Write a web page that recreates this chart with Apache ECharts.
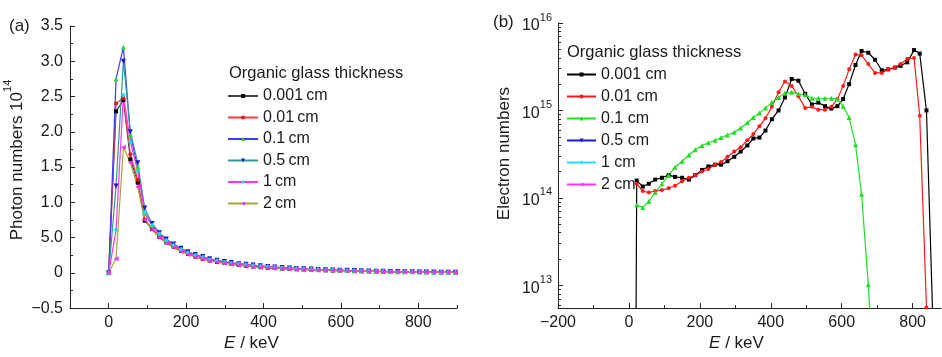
<!DOCTYPE html>
<html>
<head>
<meta charset="utf-8">
<script src="https://cdn.jsdelivr.net/npm/echarts@6/dist/echarts.min.js"></script>
<style>
  html, body { margin: 0; padding: 0; background: #fff; }
  #chart { width: 942px; height: 357px; }
</style>
</head>
<body>
<div id="chart"></div>
<script>
// ---------- Panel (a): photon spectra (values in units of 10^14) ----------
const energyA = [0, 19, 38, 56, 75, 93, 112, 131, 149, 168, 187, 205, 224, 243, 261, 280, 299, 317, 336, 355,
  373, 392, 411, 429, 448, 467, 485, 504, 523, 541, 560, 579, 597, 616, 635, 653, 672, 691, 709, 728,
  747, 765, 784, 803, 821, 840, 859, 877, 896];

const photon0001 = [0, 2.29, 2.45, 1.61, 1.28, 0.74, 0.62, 0.51, 0.43, 0.37, 0.31, 0.27, 0.23, 0.20, 0.175, 0.155,
  0.14, 0.125, 0.11, 0.10, 0.09, 0.08, 0.073, 0.067, 0.061, 0.056, 0.051, 0.047, 0.043, 0.039, 0.036, 0.033,
  0.030, 0.027, 0.025, 0.023, 0.021, 0.019, 0.017, 0.015, 0.014, 0.013, 0.012, 0.011, 0.010, 0.009, 0.008, 0.007, 0.006];
const photon001 = [0, 2.40, 2.48, 1.68, 1.32, 0.76, 0.63, 0.52, 0.44, 0.375, 0.32, 0.275, 0.235, 0.205, 0.18, 0.16,
  0.142, 0.127, 0.113, 0.102, 0.092, 0.082, 0.075, 0.069, 0.063, 0.057, 0.052, 0.048, 0.044, 0.040, 0.037, 0.034,
  0.031, 0.028, 0.026, 0.024, 0.022, 0.020, 0.018, 0.016, 0.015, 0.014, 0.012, 0.011, 0.010, 0.009, 0.008, 0.007, 0.006];
const photon01 = [0, 2.75, 3.20, 1.95, 1.50, 0.85, 0.68, 0.56, 0.47, 0.40, 0.34, 0.29, 0.255, 0.225, 0.195, 0.175,
  0.155, 0.14, 0.128, 0.117, 0.107, 0.097, 0.088, 0.080, 0.073, 0.067, 0.061, 0.056, 0.051, 0.047, 0.043, 0.040,
  0.037, 0.034, 0.031, 0.028, 0.026, 0.023, 0.021, 0.019, 0.017, 0.016, 0.014, 0.013, 0.012, 0.010, 0.009, 0.008, 0.007];
const photon05 = [0, 1.23, 3.00, 2.00, 1.56, 0.92, 0.70, 0.57, 0.48, 0.41, 0.35, 0.30, 0.26, 0.23, 0.20, 0.18,
  0.16, 0.145, 0.13, 0.12, 0.11, 0.10, 0.09, 0.082, 0.075, 0.069, 0.063, 0.058, 0.053, 0.049, 0.045, 0.041,
  0.038, 0.035, 0.032, 0.029, 0.027, 0.024, 0.022, 0.020, 0.018, 0.016, 0.015, 0.013, 0.012, 0.011, 0.009, 0.008, 0.007];
const photon1 = [0, 0.61, 2.52, 1.86, 1.44, 0.86, 0.67, 0.55, 0.46, 0.39, 0.33, 0.285, 0.25, 0.22, 0.19, 0.17,
  0.15, 0.135, 0.125, 0.115, 0.105, 0.095, 0.086, 0.078, 0.071, 0.065, 0.060, 0.055, 0.050, 0.046, 0.042, 0.039,
  0.036, 0.033, 0.030, 0.028, 0.025, 0.023, 0.021, 0.019, 0.017, 0.015, 0.014, 0.013, 0.011, 0.010, 0.009, 0.008, 0.007];
const photon2 = [0, 0.20, 1.78, 1.56, 1.22, 0.75, 0.61, 0.50, 0.42, 0.36, 0.30, 0.26, 0.225, 0.195, 0.17, 0.15,
  0.135, 0.12, 0.106, 0.096, 0.086, 0.077, 0.070, 0.064, 0.058, 0.053, 0.049, 0.045, 0.041, 0.038, 0.035, 0.032,
  0.029, 0.026, 0.024, 0.022, 0.020, 0.018, 0.016, 0.015, 0.014, 0.013, 0.012, 0.011, 0.010, 0.009, 0.008, 0.007, 0.006];

const namesA = ['0.001\u2009cm', '0.01\u2009cm', '0.1\u2009cm', '0.5\u2009cm', '1\u2009cm', '2\u2009cm'];
const yTicksA = [-0.5, 0, 0.5, 1.0, 1.5, 2.0, 2.5, 3.0, 3.5];
const yTickTextA = ['\u22120.5', '0', '5.0', '1.0', '1.5', '2.0', '2.5', '3.0', '3.5'];
const yMinorA = [-0.25, 0.25, 0.75, 1.25, 1.75, 2.25, 2.75, 3.25];
const xTicksA = [0, 200, 400, 600, 800];
const xMinorA = [100, 300, 500, 700, 900];

// ---------- Panel (b): electron spectra (values in units of 10^14) ----------
const energyB = [20, 22, 39, 56, 74, 93, 112, 130, 150, 169, 187, 206, 224, 243, 260, 278, 297, 315, 334, 351,
  368, 385, 403, 422, 440, 459, 478, 497, 516, 534, 553, 571, 588, 604, 621, 639, 656, 675, 694, 713,
  731, 750, 766, 785, 804, 820, 839, 857];

const electron0001 = [0.04, 1.58, 1.35, 1.45, 1.62, 1.70, 1.82, 1.74, 1.70, 1.62, 1.82, 2.09, 2.29, 2.40, 2.40, 2.63,
  2.95, 3.39, 3.98, 4.79, 4.90, 5.89, 7.94, 10.0, 14.1, 22.9, 21.9, 15.5, 11.7, 12.3, 11.2, 10.5,
  11.2, 13.5, 20.0, 33.1, 47.9, 45.7, 38.0, 28.8, 29.5, 30.9, 32.4, 35.5, 49.0, 44.7, 10.0, 0.04];
const electron001 = [null, 1.45, 1.20, 1.15, 1.20, 1.23, 1.29, 1.38, 1.55, 1.70, 1.82, 2.00, 2.14, 2.40, 2.57, 2.95,
  3.39, 3.80, 4.57, 5.37, 6.61, 8.13, 11.0, 16.2, 21.4, 19.1, 14.5, 10.7, 11.0, 10.2, 10.2, 11.0,
  13.5, 19.1, 29.5, 43.7, 42.7, 33.9, 26.9, 26.9, 29.5, 30.9, 33.9, 38.9, 39.8, 8.71, 0.056];
const electron01 = [null, 0.832, 0.776, 0.912, 1.15, 1.45, 1.82, 2.24, 2.63, 3.09, 3.55, 3.98, 4.27, 4.57, 4.90, 5.25,
  5.62, 6.31, 7.24, 8.32, 9.33, 10.7, 12.3, 14.1, 15.8, 16.2, 15.5, 15.1, 13.8, 13.8, 13.8, 13.8,
  13.5, 11.2, 8.32, 4.07, 1.10, 0.102, 0.005];
const electron05 = [];
const electron1 = [];
const electron2 = [];
const UNIT_B = 1e14;

const namesB = ['0.001 cm', '0.01 cm', '0.1 cm', '0.5 cm', '1 cm', '2 cm'];
const xTicksB = [-200, 0, 200, 400, 600, 800];
const xMinorB = [-100, 100, 300, 500, 700];
const yMinB = 5.5e12, yMaxB = 1e16;

// ---------- helpers ----------
const FONT = '"Liberation Sans", Arial, Helvetica, sans-serif';
const INK = '#1a1a1a';

// panel a: xAxis 0 / yAxis 0; panel b: xAxis 2 / yAxis 1
function lineSeries(name, xs, ys, unit, xi, yi, lineColor, markColor, symbol, rotate, size) {
  return {
    type: 'line', name: name,
    xAxisIndex: xi, yAxisIndex: yi,
    data: ys.map((v, i) => [xs[i], v == null ? null : v * unit]),
    symbol: symbol, symbolRotate: rotate, symbolSize: size,
    showSymbol: true, showAllSymbol: true,
    lineStyle: { color: lineColor, width: 1.2 },
    itemStyle: { color: markColor },
    emphasis: { disabled: true },
    animation: false
  };
}

const seriesList = [
  lineSeries(namesA[0], energyA, photon0001, 1, 0, 0, '#444444', '#000000', 'rect', 0, 4),
  lineSeries(namesA[1], energyA, photon001, 1, 0, 0, '#ff3a3a', '#e81010', 'circle', 0, 4),
  lineSeries(namesA[2], energyA, photon01, 1, 0, 0, '#3c3cf0', '#2fd62f', 'triangle', 0, 5),
  lineSeries(namesA[3], energyA, photon05, 1, 0, 0, '#2e9a9a', '#1a1ac8', 'triangle', 180, 5),
  lineSeries(namesA[4], energyA, photon1, 1, 0, 0, '#ff33ff', '#22d8e0', 'diamond', 0, 5),
  lineSeries(namesA[5], energyA, photon2, 1, 0, 0, '#a6a63a', '#ee33ee', 'triangle', 90, 5),

  lineSeries(namesB[0], energyB, electron0001, UNIT_B, 2, 1, '#000000', '#000000', 'rect', 0, 4),
  lineSeries(namesB[1], energyB, electron001, UNIT_B, 2, 1, '#ff1a1a', '#ff1a1a', 'circle', 0, 4),
  lineSeries(namesB[2], energyB, electron01, UNIT_B, 2, 1, '#22dd22', '#22dd22', 'triangle', 0, 5),
  lineSeries(namesB[3], energyB, electron05, UNIT_B, 2, 1, '#1a1acc', '#1a1acc', 'triangle', 180, 5),
  lineSeries(namesB[4], energyB, electron1, UNIT_B, 2, 1, '#22ddff', '#22ddff', 'diamond', 0, 5),
  lineSeries(namesB[5], energyB, electron2, UNIT_B, 2, 1, '#ff33ff', '#ff33ff', 'triangle', 90, 5)
];

const axisLineStyle = { color: '#222', width: 1 };
const tickLabel = { color: INK, fontFamily: FONT, fontSize: 16 };
const richE = { i: { fontStyle: 'italic', fontSize: 17, fontFamily: FONT, color: INK } };

// a value axis that only draws short inward ticks (minor subdivisions)
function minorAxis(gridIndex, position, min, max, values) {
  return {
    gridIndex, type: 'value', position, min, max,
    axisLine: { show: false, onZero: false },
    axisTick: { show: true, inside: true, length: 3, customValues: values, lineStyle: axisLineStyle },
    axisLabel: { show: false }, splitLine: { show: false }
  };
}

const option = {
  backgroundColor: '#ffffff',
  animation: false,
  grid: [
    { left: 70, top: 26, right: 485, bottom: 43, containLabel: false },
    { left: 558, top: 23, right: 1, bottom: 46, containLabel: false }
  ],
  xAxis: [
    {
      gridIndex: 0, type: 'value', position: 'bottom', min: -100, max: 900,
      axisLine: { onZero: false, lineStyle: axisLineStyle },
      axisTick: { inside: true, length: 5, customValues: xTicksA, lineStyle: axisLineStyle },
      axisLabel: { customValues: xTicksA, margin: 6, ...tickLabel },
      splitLine: { show: false },
      name: '{i|E} / keV', nameLocation: 'middle', nameGap: 22,
      nameTextStyle: { fontSize: 17, fontFamily: FONT, color: INK, rich: richE, padding: [0, 24, 0, 0] }
    },
    minorAxis(0, 'bottom', -100, 900, xMinorA),
    {
      gridIndex: 1, type: 'value', position: 'bottom', min: -200, max: 880,
      axisLine: { onZero: false, lineStyle: axisLineStyle },
      axisTick: { inside: true, length: 5, customValues: xTicksB, lineStyle: axisLineStyle },
      axisLabel: {
        customValues: xTicksB, margin: 6, ...tickLabel,
        formatter: v => String(v).replace('-', '\u2212')
      },
      splitLine: { show: false },
      name: '{i|E} / keV', nameLocation: 'middle', nameGap: 23,
      nameTextStyle: { fontSize: 17, fontFamily: FONT, color: INK, rich: richE, padding: [0, 26, 0, 0] }
    },
    minorAxis(1, 'bottom', -200, 880, xMinorB)
  ],
  yAxis: [
    {
      gridIndex: 0, type: 'value', position: 'left', min: -0.5, max: 3.5,
      axisLine: { show: true, onZero: false, lineStyle: axisLineStyle },
      axisTick: { show: true, inside: true, length: 5, customValues: yTicksA, lineStyle: axisLineStyle },
      axisLabel: {
        customValues: yTicksA, margin: 7, ...tickLabel,
        formatter: v => {
          const k = yTicksA.findIndex(t => Math.abs(t - v) < 1e-9);
          return k >= 0 ? yTickTextA[k] : '';
        }
      },
      splitLine: { show: false },
      name: '{a|Photon numbers 10}{s|14}', nameLocation: 'middle', nameGap: 44,
      nameTextStyle: {
        color: INK, padding: [0, 0, 0, 14],
        rich: {
          a: { fontSize: 17, fontFamily: FONT, color: INK, lineHeight: 24, verticalAlign: 'bottom' },
          s: { fontSize: 11, fontFamily: FONT, color: INK, lineHeight: 24, verticalAlign: 'top' }
        }
      }
    },
    {
      gridIndex: 1, type: 'log', logBase: 10, position: 'left', min: yMinB, max: yMaxB,
      axisLine: { show: true, onZero: false, lineStyle: axisLineStyle },
      axisTick: { show: true, inside: true, length: 5, lineStyle: axisLineStyle },
      axisLabel: {
        margin: 6, color: INK,
        formatter: v => {
          const p = Math.log10(v), e = Math.round(p);
          return Math.abs(p - e) < 1e-6 ? '{b|10}{s|' + e + '}' : '';
        },
        rich: {
          b: { fontSize: 16, fontFamily: FONT, color: INK, lineHeight: 22, verticalAlign: 'bottom' },
          s: { fontSize: 11, fontFamily: FONT, color: INK, lineHeight: 22, verticalAlign: 'top' }
        }
      },
      splitLine: { show: false },
      name: 'Electron numbers', nameLocation: 'middle', nameGap: 45,
      nameTextStyle: { fontSize: 17, fontFamily: FONT, color: INK, padding: [0, 0, 0, 24] }
    },
    // decade subdivisions (2..9) of the logarithmic axis, placed in log10 units
    minorAxis(1, 'left', Math.log10(yMinB), Math.log10(yMaxB),
      [12, 13, 14, 15].flatMap(d => [2, 3, 4, 5, 6, 7, 8, 9].map(m => d + Math.log10(m)))
        .filter(t => t >= Math.log10(yMinB) && t <= Math.log10(yMaxB))),
    minorAxis(0, 'left', -0.5, 3.5, yMinorA)
  ],
  legend: [
    {
      data: namesA, orient: 'vertical', left: 227, top: 88, padding: 0,
      itemWidth: 30, itemHeight: 5, itemGap: 5.5, selectedMode: false,
      textStyle: { fontSize: 16, fontFamily: FONT, color: INK, lineHeight: 16 }
    },
    {
      data: namesB, orient: 'vertical', left: 566, top: 66.5, padding: 0,
      itemWidth: 29, itemHeight: 5, itemGap: 6, selectedMode: false,
      textStyle: { fontSize: 16, fontFamily: FONT, color: INK, lineHeight: 16 }
    }
  ],
  graphic: [
    { type: 'text', x: 9, y: 26, style: { text: '(a)', fontSize: 17, fontFamily: FONT, fill: INK, verticalAlign: 'middle' } },
    { type: 'text', x: 493, y: 22, style: { text: '(b)', fontSize: 17, fontFamily: FONT, fill: INK, verticalAlign: 'middle' } },
    { type: 'text', x: 229, y: 73, style: { text: 'Organic glass thickness', fontSize: 16.5, fontFamily: FONT, fill: INK, verticalAlign: 'middle' } },
    { type: 'text', x: 567, y: 52, style: { text: 'Organic glass thickness', fontSize: 16.5, fontFamily: FONT, fill: INK, verticalAlign: 'middle' } }
  ],
  series: seriesList
};

const chart = echarts.init(document.getElementById('chart'), null, { renderer: 'canvas' });
chart.setOption(option);
</script>
</body>
</html>
